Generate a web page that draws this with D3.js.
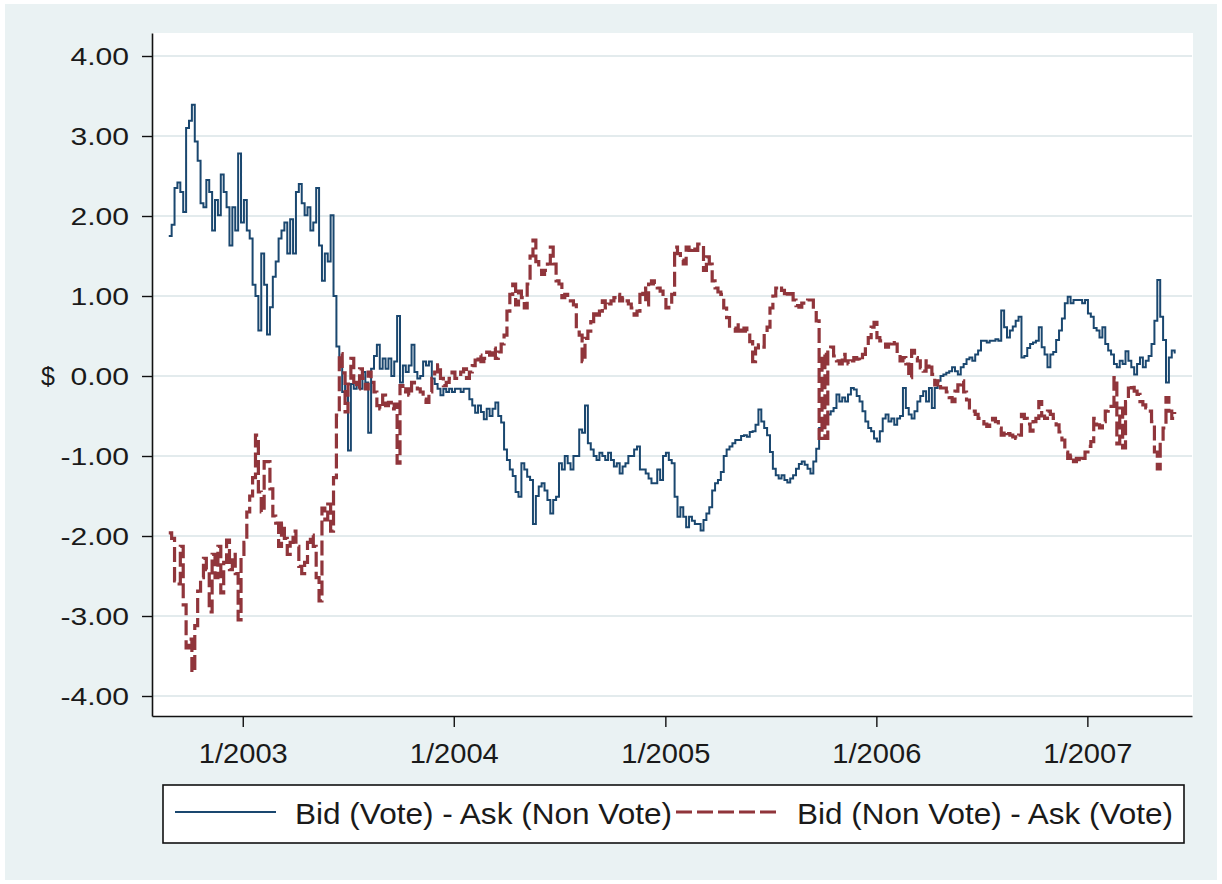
<!DOCTYPE html>
<html>
<head>
<meta charset="utf-8">
<script src="https://cdn.jsdelivr.net/npm/d3@7"></script>
<style>
  html, body { margin: 0; padding: 0; background: #ffffff; }
  svg { display: block; }
</style>
</head>
<body>
<svg id="chart" width="1222" height="884"></svg>
<script>
// ---------------- DATA ----------------
const startDate = new Date(2002, 7, 26);   // first observation
const stepDays = 5;                         // spacing of observations (days)

const seriesNames = ["Bid (Vote) - Ask (Non Vote)", "Bid (Non Vote) - Ask (Vote)"];

const bidVoteAskNonVote = [
  1.75, 1.89, 2.35, 2.42, 2.30, 2.05, 3.10, 3.19, 3.39, 2.93,
  2.69, 2.16, 2.11, 2.45, 2.30, 1.82, 2.20, 2.01, 2.52, 2.30,
  2.11, 1.63, 2.11, 1.82, 2.78, 1.92, 2.20, 1.82, 1.72, 1.14,
  1.00, 0.57, 1.53, 1.14, 0.52, 0.86, 1.24, 1.43, 1.72, 1.82,
  1.92, 1.53, 1.96, 1.53, 2.30, 2.40, 2.16, 2.01, 2.11, 1.82,
  1.92, 2.35, 1.63, 1.19, 1.53, 1.43, 2.01, 1.00, 0.37, 0.18,
  -0.20, -0.10, -0.93, -0.10, -0.16, -0.08, -0.16, 0.05, -0.08, -0.71,
  0.09, 0.25, 0.39, 0.09, 0.22, 0.09, 0.22, 0.00, 0.18, 0.75,
  -0.08, 0.13, 0.05, 0.13, 0.39, 0.05, -0.03, 0.00, 0.18, 0.13,
  0.18, -0.03, -0.10, -0.16, -0.24, -0.16, -0.20, -0.16, -0.20, -0.16,
  -0.16, -0.20, -0.16, -0.16, -0.29, -0.37, -0.46, -0.37, -0.45, -0.54,
  -0.41, -0.50, -0.41, -0.33, -0.50, -0.58, -0.92, -1.05, -1.17, -1.25,
  -1.45, -1.51, -1.09, -1.17, -1.26, -1.30, -1.85, -1.50, -1.38, -1.34,
  -1.43, -1.55, -1.72, -1.55, -1.51, -1.09, -1.17, -1.00, -1.09, -1.17,
  -1.00, -1.00, -0.67, -0.71, -0.37, -0.84, -0.92, -1.00, -1.05, -0.96,
  -1.00, -1.05, -0.96, -1.05, -1.13, -1.09, -1.22, -1.13, -1.09, -1.00,
  -1.00, -0.92, -0.88, -1.17, -1.17, -1.22, -1.28, -1.34, -1.34, -1.17,
  -1.30, -1.00, -0.96, -1.05, -1.09, -1.51, -1.76, -1.64, -1.76, -1.89,
  -1.76, -1.81, -1.85, -1.85, -1.93, -1.80, -1.72, -1.64, -1.43, -1.34,
  -1.30, -1.20, -1.00, -0.92, -0.88, -0.84, -0.80, -0.80, -0.75, -0.74,
  -0.76, -0.70, -0.69, -0.61, -0.42, -0.57, -0.65, -0.74, -0.95, -1.16,
  -1.24, -1.28, -1.24, -1.30, -1.33, -1.28, -1.24, -1.16, -1.10, -1.07,
  -1.11, -1.16, -1.22, -1.07, -0.91, -0.65, -0.57, -0.53, -0.48, -0.44,
  -0.40, -0.23, -0.32, -0.27, -0.32, -0.23, -0.15, -0.17, -0.25, -0.32,
  -0.44, -0.57, -0.65, -0.69, -0.78, -0.82, -0.69, -0.53, -0.48, -0.57,
  -0.53, -0.61, -0.53, -0.50, -0.15, -0.40, -0.48, -0.53, -0.44, -0.32,
  -0.25, -0.19, -0.32, -0.15, -0.40, -0.15, -0.06, 0.00, 0.02, 0.04,
  0.06, 0.11, 0.06, 0.02, 0.11, 0.15, 0.21, 0.23, 0.19, 0.27,
  0.32, 0.44, 0.44, 0.42, 0.44, 0.44, 0.46, 0.44, 0.82, 0.61,
  0.48, 0.57, 0.62, 0.69, 0.74, 0.23, 0.25, 0.35, 0.40, 0.42,
  0.44, 0.61, 0.36, 0.27, 0.11, 0.27, 0.30, 0.45, 0.57, 0.72,
  0.91, 0.99, 0.91, 0.95, 0.95, 0.95, 0.91, 0.95, 0.78, 0.74,
  0.60, 0.57, 0.48, 0.61, 0.40, 0.32, 0.27, 0.15, 0.11, 0.19,
  0.15, 0.31, 0.19, 0.11, 0.02, 0.15, 0.23, 0.11, 0.19, 0.25,
  0.40, 0.69, 1.20, 0.74, 0.45, -0.08, 0.23, 0.32, 0.28
];

const bidNonVoteAskVote = [
  -1.96, -2.03, -2.56, -2.60, -2.13, -2.86, -3.40, -3.29, -3.70, -3.12,
  -2.69, -2.52, -2.28, -2.42, -2.95, -2.23, -2.52, -2.13, -2.71, -2.33,
  -2.05, -2.42, -2.23, -2.47, -3.05, -2.23, -2.08, -1.70, -1.50, -1.27,
  -0.74, -1.45, -1.70, -1.07, -1.07, -1.41, -1.75, -1.84, -2.13, -1.84,
  -2.03, -2.23, -2.08, -1.94, -2.13, -2.38, -2.47, -2.33, -2.08, -1.99,
  -2.13, -2.52, -2.81, -1.65, -1.80, -1.60, -1.94, -1.27, -0.49, 0.28,
  0.04, -0.45, -0.10, 0.22, -0.08, -0.16, 0.09, -0.03, -0.16, 0.05,
  -0.08, -0.20, -0.37, -0.41, -0.24, -0.37, -0.33, -0.41, -0.35, -1.09,
  -0.12, -0.20, -0.16, -0.24, -0.08, -0.12, -0.16, -0.20, -0.29, -0.33,
  -0.20, -0.03, 0.05, 0.14, -0.03, -0.12, -0.08, -0.03, 0.05, -0.03,
  -0.03, 0.05, 0.09, -0.03, 0.05, 0.13, 0.20, 0.26, 0.18, 0.22,
  0.30, 0.26, 0.35, 0.22, 0.30, 0.40, 0.51, 0.81, 1.02, 1.15,
  0.89, 1.06, 0.98, 0.85, 1.15, 1.50, 1.70, 1.43, 1.32, 1.27,
  1.32, 1.40, 1.61, 1.40, 1.19, 1.15, 0.98, 1.02, 0.94, 0.94,
  0.89, 0.55, 0.51, 0.18, 0.47, 0.56, 0.68, 0.81, 0.76, 0.81,
  0.94, 0.85, 0.90, 0.94, 0.98, 1.02, 0.94, 0.98, 0.94, 0.90,
  0.85, 0.76, 0.81, 1.02, 1.10, 0.89, 1.15, 1.19, 1.15, 1.10,
  1.06, 0.98, 0.85, 0.89, 1.02, 1.61, 1.53, 1.45, 1.40, 1.61,
  1.57, 1.61, 1.57, 1.65, 1.63, 1.32, 1.49, 1.40, 1.19, 1.10,
  1.05, 1.02, 0.85, 0.73, 0.60, 0.60, 0.56, 0.64, 0.56, 0.60,
  0.56, 0.43, 0.18, 0.35, 0.39, 0.36, 0.53, 0.61, 0.85, 1.00,
  1.10, 1.12, 1.07, 1.03, 0.99, 1.03, 0.95, 0.88, 0.86, 0.91,
  0.91, 0.95, 0.95, 0.82, 0.69, -0.78, 0.27, -0.78, 0.32, 0.36,
  0.25, 0.19, 0.15, 0.27, 0.19, 0.15, 0.19, 0.23, 0.21, 0.19,
  0.27, 0.36, 0.48, 0.61, 0.67, 0.48, 0.44, 0.40, 0.36, 0.40,
  0.44, 0.40, 0.27, 0.19, 0.23, 0.15, -0.02, 0.32, 0.23, 0.19,
  0.10, 0.06, 0.19, 0.11, 0.02, -0.11, -0.06, -0.15, -0.15, -0.20,
  -0.27, -0.32, -0.19, -0.11, -0.06, -0.20, -0.30, -0.40, -0.44, -0.48,
  -0.53, -0.57, -0.60, -0.63, -0.58, -0.53, -0.57, -0.65, -0.74, -0.69,
  -0.72, -0.74, -0.76, -0.78, -0.74, -0.48, -0.53, -0.60, -0.69, -0.57,
  -0.53, -0.32, -0.50, -0.53, -0.44, -0.48, -0.53, -0.61, -0.70, -0.80,
  -0.95, -1.03, -0.99, -1.07, -1.03, -1.07, -1.03, -0.95, -0.88, -0.82,
  -0.53, -0.61, -0.65, -0.57, -0.44, -0.40, -0.38, -0.02, -0.85, -0.40,
  -0.90, -0.32, -0.15, -0.11, -0.19, -0.23, -0.32, -0.36, -0.40, -0.44,
  -0.57, -0.95, -1.16, -0.82, -0.65, -0.27, -0.44, -0.53, -0.45
];

const yTickValues = [4, 3, 2, 1, 0, -1, -2, -3, -4];
const yTickLabels = ["4.00", "3.00", "2.00", "1.00", "0.00", "-1.00", "-2.00", "-3.00", "-4.00"];
const xTickYears  = [2003, 2004, 2005, 2006, 2007];
const xTickLabels = ["1/2003", "1/2004", "1/2005", "1/2006", "1/2007"];
const yAxisTitle = "$";

// ---------------- LAYOUT ----------------
const W = 1222, H = 884;
const plot = { left: 152, right: 1193, top: 33, bottom: 716 };
const colBlue = "#1a476f", colRed = "#90353b";
const bgCol = "#eaf2f3", gridCol = "#e3ebed";
const FONT = "'Liberation Sans', Arial, Helvetica, sans-serif";

const svg = d3.select("#chart");

svg.append("rect").attr("x", 0).attr("y", 0).attr("width", W).attr("height", H).attr("fill", "#ffffff");
svg.append("rect").attr("x", 5).attr("y", 4).attr("width", W - 10).attr("height", H - 8).attr("fill", bgCol);
svg.append("rect").attr("x", plot.left).attr("y", plot.top)
   .attr("width", plot.right - plot.left).attr("height", plot.bottom - plot.top).attr("fill", "#ffffff");

// scales
const x = d3.scaleTime()
  .domain([new Date(2002, 6, 28), new Date(2007, 6, 1)])
  .range([plot.left, 1192]);
const y = d3.scaleLinear()
  .domain([-4.25, 4.2875])
  .range([plot.bottom, plot.top]);

const dates = bidVoteAskNonVote.map((_, i) => d3.timeDay.offset(startDate, i * stepDays));
const blueData = bidVoteAskNonVote.map((v, i) => ({ d: dates[i], v }));
const redData  = bidNonVoteAskVote.map((v, i) => ({ d: dates[i], v }));

// gridlines
svg.append("g").selectAll("line").data(yTickValues).join("line")
  .attr("x1", plot.left).attr("x2", 1192)
  .attr("y1", d => y(d)).attr("y2", d => y(d))
  .attr("stroke", gridCol).attr("stroke-width", 2.2);

// clip
svg.append("clipPath").attr("id", "clip").append("rect")
  .attr("x", plot.left).attr("y", plot.top)
  .attr("width", plot.right - plot.left).attr("height", plot.bottom - plot.top);

const line = d3.line().x(p => x(p.d)).y(p => y(p.v)).curve(d3.curveStepAfter);

const lines = svg.append("g").attr("clip-path", "url(#clip)");
lines.append("path").datum(blueData)
  .attr("d", line).attr("fill", "none")
  .attr("stroke", colBlue).attr("stroke-width", 2).attr("stroke-linejoin", "miter");
lines.append("path").datum(redData)
  .attr("d", line).attr("fill", "none")
  .attr("stroke", colRed).attr("stroke-width", 3.2).attr("stroke-dasharray", "15,5");

// y axis
const yAxis = d3.axisLeft(y)
  .tickValues(yTickValues)
  .tickSize(10).tickSizeOuter(0).tickPadding(13)
  .tickFormat((d, i) => yTickLabels[i]);
const gy = svg.append("g").attr("transform", `translate(${plot.left},0)`).call(yAxis);
gy.select(".domain").attr("stroke", "#111").attr("stroke-width", 1.6);
gy.selectAll(".tick line").attr("stroke", "#111").attr("stroke-width", 1.4);
gy.selectAll(".tick text")
  .attr("font-family", FONT).attr("font-size", 23.5).attr("fill", "#1a1a1a")
  .attr("dy", "0.36em")
  .each(function () {
    const w = this.getComputedTextLength();
    d3.select(this).attr("textLength", w * 1.28).attr("lengthAdjust", "spacingAndGlyphs");
  });

// x axis
const xAxis = d3.axisBottom(x)
  .tickValues(xTickYears.map(yr => new Date(yr, 0, 1)))
  .tickSize(11).tickSizeOuter(0)
  .tickFormat((d, i) => xTickLabels[i]);
const gx = svg.append("g").attr("transform", `translate(0,${plot.bottom})`).call(xAxis);
gx.select(".domain").attr("stroke", "#111").attr("stroke-width", 1.6);
gx.selectAll(".tick line").attr("stroke", "#111").attr("stroke-width", 1.4);
gx.selectAll(".tick text")
  .attr("font-family", FONT).attr("font-size", 27).attr("fill", "#1a1a1a")
  .attr("y", 47).attr("dy", null)
  .attr("textLength", 89).attr("lengthAdjust", "spacingAndGlyphs");

// y axis title
svg.append("text").attr("x", 48).attr("y", 376).attr("dy", "0.36em")
  .attr("text-anchor", "middle").attr("font-family", FONT).attr("font-size", 25)
  .attr("fill", "#1a1a1a").text(yAxisTitle);

// legend
const lg = svg.append("g");
lg.append("rect").attr("x", 163).attr("y", 785).attr("width", 1021).attr("height", 58)
  .attr("fill", "#ffffff").attr("stroke", "#111").attr("stroke-width", 1.6);
lg.append("line").attr("x1", 175).attr("x2", 276).attr("y1", 812).attr("y2", 812)
  .attr("stroke", colBlue).attr("stroke-width", 2);
lg.append("text").attr("x", 295).attr("y", 824)
  .attr("font-family", FONT).attr("font-size", 29).attr("fill", "#1a1a1a")
  .attr("textLength", 377).attr("lengthAdjust", "spacingAndGlyphs")
  .text(seriesNames[0]);
lg.append("line").attr("x1", 676).attr("x2", 778).attr("y1", 812).attr("y2", 812)
  .attr("stroke", colRed).attr("stroke-width", 3.2).attr("stroke-dasharray", "16,5");
lg.append("text").attr("x", 797).attr("y", 824)
  .attr("font-family", FONT).attr("font-size", 29).attr("fill", "#1a1a1a")
  .attr("textLength", 376).attr("lengthAdjust", "spacingAndGlyphs")
  .text(seriesNames[1]);
</script>
</body>
</html>
